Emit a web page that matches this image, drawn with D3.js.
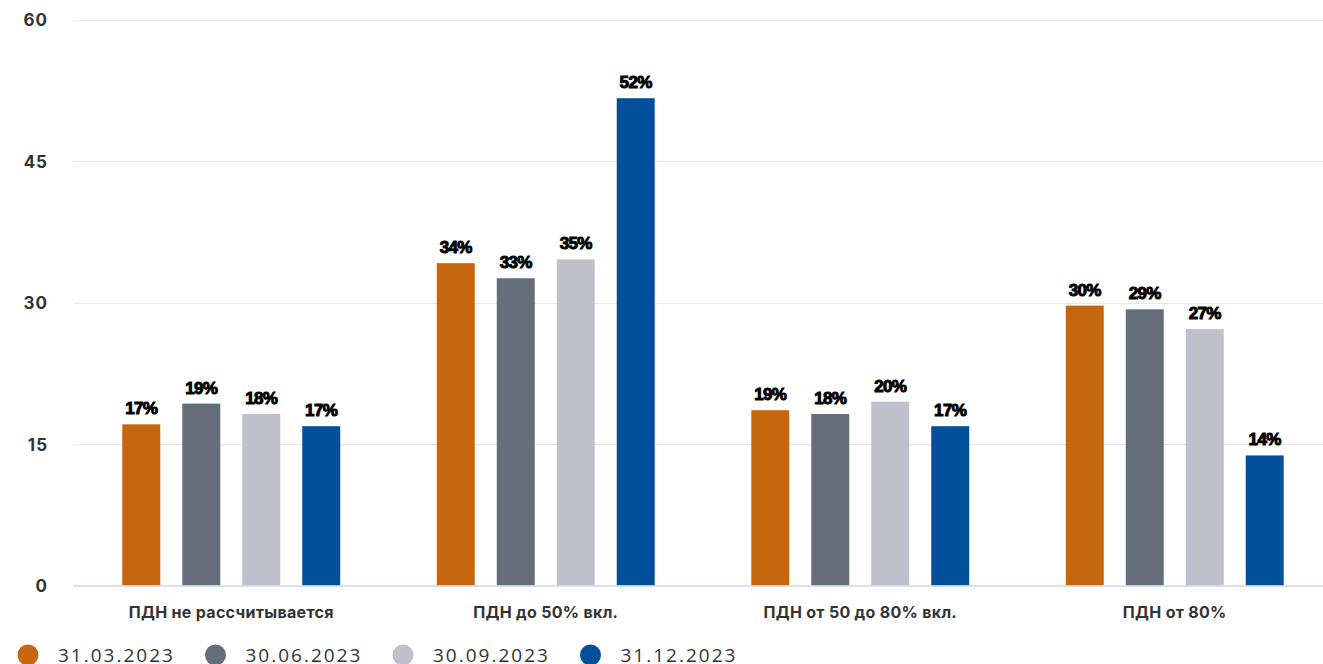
<!DOCTYPE html>
<html>
<head>
<meta charset="utf-8">
<script src="https://cdn.jsdelivr.net/npm/d3@7"></script>
<style>
  html, body { margin: 0; padding: 0; background: #fff; }
  svg { display: block; }
</style>
</head>
<body>
<div id="chart"></div>
<script>
// chart data
const categories = ["ПДН не рассчитывается", "ПДН до 50% вкл.", "ПДН от 50 до 80% вкл.", "ПДН от 80%"];
const seriesNames = ["31.03.2023", "30.06.2023", "30.09.2023", "31.12.2023"];
const seriesValues = [
    [17.1, 34.2, 18.6, 29.7],
    [19.3, 32.6, 18.2, 29.3],
    [18.2, 34.6, 19.5, 27.2],
    [16.9, 51.7, 16.9, 13.8]
];
const yTicks = [0, 15, 30, 45, 60];
const seriesColors = ["#c6670f", "#656c7a", "#bec1cb", "#024f9b"];

const width = 1323, height = 664;
const margin = { left: 74, right: -9, top: 20, bottom: 78.5 };

const svg = d3.select("#chart").append("svg")
    .attr("width", width)
    .attr("height", height);

const x0 = d3.scaleBand()
    .domain(categories)
    .range([margin.left, width - margin.right]);

const x1 = d3.scaleBand()
    .domain(seriesNames)
    .range([0, x0.bandwidth()])
    .paddingInner(0.367)
    .paddingOuter(0.805);

const y = d3.scaleLinear()
    .domain([0, 60])
    .range([height - margin.bottom, margin.top]);

// grid
svg.append("g").attr("class", "grid")
    .selectAll("line")
    .data(yTicks.filter(d => d > 0))
    .join("line")
    .attr("x1", margin.left - 1)
    .attr("x2", width)
    .attr("y1", d => Math.round(y(d)) + 0.5)
    .attr("y2", d => Math.round(y(d)) + 0.5)
    .attr("stroke", "#e6e6e6")
    .attr("stroke-width", 1);

// y axis labels
const yAxis = d3.axisLeft(y).tickValues(yTicks).tickSize(0).tickPadding(0);
svg.append("g")
    .attr("transform", `translate(48,0)`)
    .call(yAxis)
    .call(g => g.select(".domain").remove())
    .call(g => g.selectAll("text")
        .attr("font-family", "Inter, 'Open Sans', sans-serif")
        .attr("font-weight", 700)
        .attr("font-size", 17)
        .attr("letter-spacing", 1)
        .attr("fill", "#333")
        .attr("dy", "0.35em"));

// bars
const groups = svg.append("g").selectAll("g")
    .data(seriesNames)
    .join("g")
    .attr("fill", (d, i) => seriesColors[i]);

groups.selectAll("rect")
    .data((s, si) => categories.map((c, ci) => ({ c, s, v: seriesValues[si][ci] })))
    .join("rect")
    .attr("x", d => x0(d.c) + x1(d.s))
    .attr("y", d => y(d.v))
    .attr("width", x1.bandwidth())
    .attr("height", d => y(0) - y(d.v));

// value labels
groups.selectAll("text")
    .data((s, si) => categories.map((c, ci) => ({ c, s, v: seriesValues[si][ci] })))
    .join("text")
    .attr("x", d => x0(d.c) + x1(d.s) + x1.bandwidth() / 2)
    .attr("y", d => y(d.v) - 10)
    .attr("text-anchor", "middle")
    .attr("font-family", "'Liberation Sans', Arial, sans-serif")
    .attr("font-weight", 700)
    .attr("font-size", 17)
    .attr("fill", "#000")
    .attr("stroke", "#000")
    .attr("stroke-width", 1)
    .attr("letter-spacing", -0.6)
    .text(d => Math.round(d.v) + "%");

// x axis line
svg.append("line")
    .attr("x1", margin.left - 1)
    .attr("x2", width)
    .attr("y1", y(0) + 0.5)
    .attr("y2", y(0) + 0.5)
    .attr("stroke", "#ccd6eb")
    .attr("stroke-width", 1.5);

// x axis labels
const xAxis = d3.axisBottom(x0).tickSize(0).tickPadding(0);
svg.append("g")
    .attr("transform", `translate(0,${y(0) + 32})`)
    .call(xAxis)
    .call(g => g.select(".domain").remove())
    .call(g => g.selectAll("text")
        .attr("dy", 0)
        .attr("font-family", "Inter, 'Open Sans', sans-serif")
        .attr("font-weight", 700)
        .attr("font-size", 16)
        .attr("letter-spacing", 0.3)
        .attr("fill", "#333"));

// legend
const legend = svg.append("g")
    .selectAll("g")
    .data(seriesNames)
    .join("g")
    .attr("transform", (d, i) => `translate(${28 + i * 187.5},655)`);

legend.append("circle")
    .attr("r", 10.5)
    .attr("fill", (d, i) => seriesColors[i]);

legend.append("text")
    .attr("x", 30)
    .attr("y", 7)
    .attr("font-family", "'Open Sans', sans-serif")
    .attr("font-size", 19)
    .attr("letter-spacing", 2)
    .attr("fill", "#333")
    .text(d => d);
</script>
</body>
</html>
